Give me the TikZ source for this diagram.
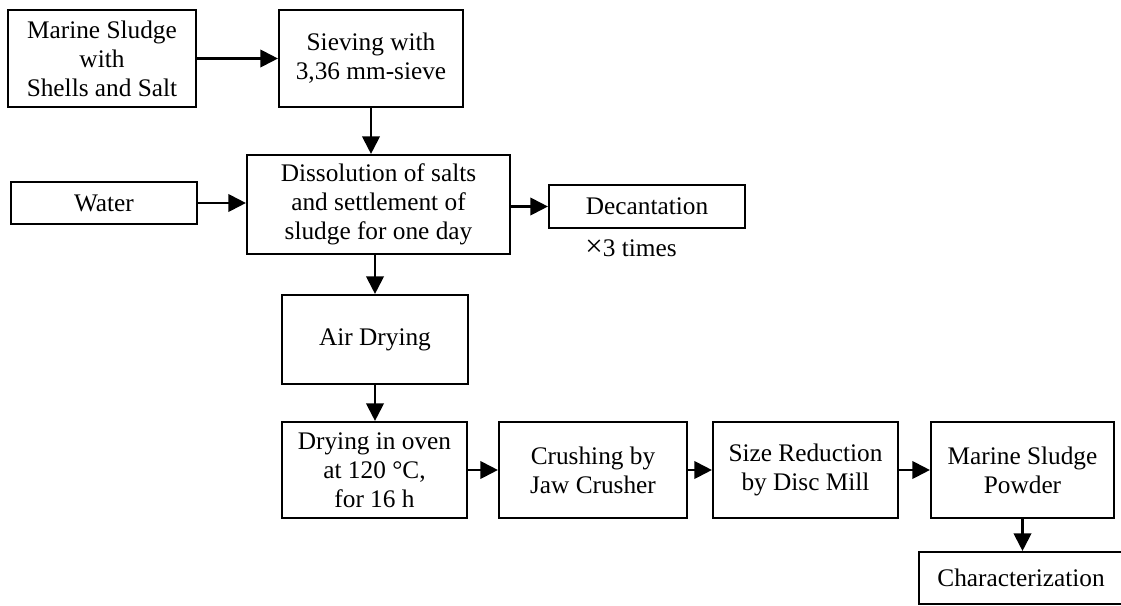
\documentclass[tikz,border=0pt]{standalone}
\usepackage{fontspec}
\setmainfont{Liberation Serif}
\usepackage{tikz}
\usetikzlibrary{arrows.meta}

\tikzset{
  procbox/.style={draw, rectangle, line width=1.5pt, align=center, inner sep=0pt,
    font=\fontsize{18}{20.6}\selectfont},
  flow/.style={-{Triangle[length=0.44cm, width=0.44cm]}, line width=1.5pt},
}

\begin{document}
\begin{tikzpicture}[x=0.025cm, y=-0.025cm]
        \clip (0,0) rectangle (1121,606);

        % sludge preparation (top rows)
        \node[procbox, minimum width=4.7cm, minimum height=2.425cm] (sludge) at (102, 58.5) {Marine Sludge\\with\\Shells and Salt};
        \node[procbox, minimum width=4.6cm, minimum height=2.425cm] (sieve) at (371, 58.5) {Sieving with\\3,36 mm-sieve};
        \node[procbox, minimum width=4.65cm, minimum height=1.05cm] (water) at (104, 203) {Water};
        \node[procbox, minimum width=6.575cm, minimum height=2.475cm] (dissolve) at (378.5, 204.5) {Dissolution of salts\\and settlement of\\sludge for one day};
        \node[procbox, minimum width=4.9cm, minimum height=1.075cm] (decant) at (647, 206.5) {Decantation};
        \node[font=\fontsize{18}{20.6}\selectfont] (times) at (631, 248) {{\fontsize{22}{22}\selectfont ×}3 times};
        \node[procbox, minimum width=4.65cm, minimum height=2.225cm] (airdry) at (375, 339.5) {Air Drying};

        % drying and milling (bottom row)
        \node[procbox, minimum width=4.625cm, minimum height=2.4cm] (oven) at (374.5, 470) {Drying in oven\\at 120 °C,\\for 16 h};
        \node[procbox, minimum width=4.7cm, minimum height=2.4cm] (crusher) at (593, 470) {Crushing by\\Jaw Crusher};
        \node[procbox, minimum width=4.625cm, minimum height=2.4cm] (sizered) at (805.5, 470) {Size Reduction\\by Disc Mill};
        \node[procbox, minimum width=4.575cm, minimum height=2.4cm] (powder) at (1022.5, 470) {Marine Sludge\\Powder};
        \node[procbox, minimum width=5.1cm, minimum height=1.3cm] (charact) at (1021, 578) {Characterization};

        \draw[flow] (sludge) -- (sieve);
        \draw[flow] (sieve.south) -- (sieve.south |- dissolve.north);
        \draw[flow] (water.east) -- (water.east -| dissolve.west);
        \draw[flow] (decant.west -| dissolve.east) -- (decant.west);
        \draw[flow] (airdry.north |- dissolve.south) -- (airdry.north);
        \draw[flow] (airdry.south) -- (airdry.south |- oven.north);
        \draw[flow] (oven) -- (crusher);
        \draw[flow] (crusher) -- (sizered);
        \draw[flow] (sizered) -- (powder);
        \draw[flow] (powder.south) -- (powder.south |- charact.north);
\end{tikzpicture}
\end{document}
